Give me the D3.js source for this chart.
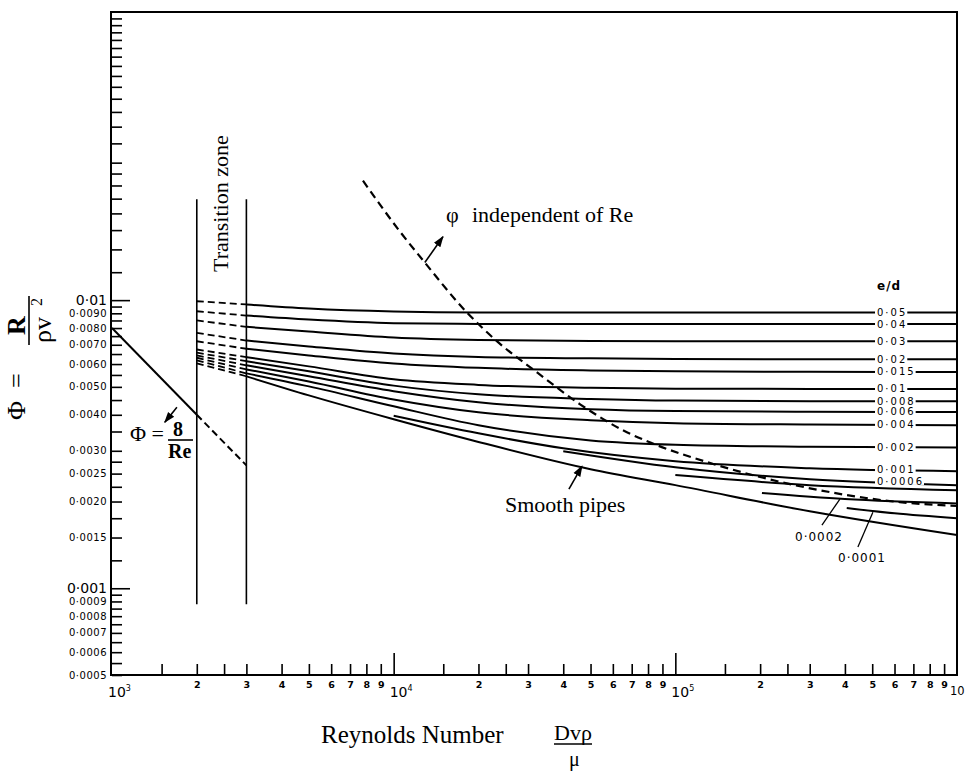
<!DOCTYPE html>
<html><head><meta charset="utf-8">
<script src="https://cdn.jsdelivr.net/npm/d3@7"></script>
<style>body{margin:0;background:#fff} svg{display:block}</style>
</head><body>
<svg id="c" width="965" height="772"></svg>
<script>
// ---------------- DATA ----------------
const reGrid = [3000, 5000, 10000, 20000, 50000, 100000, 300000, 1000000];
const edLabels = ["0·05","0·04","0·03","0·02","0·015","0·01","0·008","0·006","0·004","0·002"];
const phi_005  = [0.00966, 0.00935, 0.00913, 0.00906, 0.00906, 0.00906, 0.00906, 0.00906];
const phi_004  = [0.00884, 0.00856, 0.00832, 0.00827, 0.00826, 0.00826, 0.00826, 0.00826];
const phi_003  = [0.00808, 0.00778, 0.00742, 0.00727, 0.00721, 0.00720, 0.00720, 0.00720];
const phi_002  = [0.00724, 0.00691, 0.00653, 0.00635, 0.00628, 0.00625, 0.00623, 0.00623];
const phi_0015 = [0.00678, 0.00643, 0.00603, 0.00582, 0.00570, 0.00566, 0.00564, 0.00563];
const phi_001  = [0.00634, 0.00589, 0.00531, 0.00508, 0.00496, 0.00493, 0.00492, 0.00492];
const phi_0008 = [0.00614, 0.00566, 0.00505, 0.00471, 0.00454, 0.00448, 0.00446, 0.00446];
const phi_0006 = [0.00594, 0.00544, 0.00483, 0.00442, 0.00418, 0.00412, 0.00410, 0.00409];
const phi_0004 = [0.00575, 0.00522, 0.00452, 0.00408, 0.00383, 0.00374, 0.00370, 0.00368];
const phi_0002 = [0.00557, 0.00502, 0.00428, 0.00368, 0.00326, 0.00315, 0.00310, 0.00308];
const phi_smooth = [0.00544, 0.00467, 0.00386, 0.00322, 0.00259, 0.00228, 0.00185, 0.00153];
// dashed transition-zone pieces: value at Re = 2000 (joins first value at Re = 3000)
const transitionRe = [2000, 3000];
const transitionStart = [0.00991, 0.00915, 0.00850, 0.00770, 0.00720, 0.00674, 0.00657, 0.00643, 0.00631, 0.00618, 0.00603];
const transitionSpan = [0.00088, 0.0224];

// low-roughness curves branching near the smooth-pipe line
const re_00010 = [10000, 20000, 40000, 100000, 300000, 1000000];
const phi_00010 = [0.00397, 0.00345, 0.00306, 0.00276, 0.00261, 0.00255];
const re_00006 = [40000, 100000, 300000, 1000000];
const phi_00006 = [0.00299, 0.00263, 0.00239, 0.00228];
const re_00004 = [100000, 300000, 1000000];
const phi_00004 = [0.00247, 0.00228, 0.00219];
const re_00002 = [203000, 400000, 1000000];
const phi_00002 = [0.00214, 0.00204, 0.00197];
const re_00001 = [406000, 600000, 1000000];
const phi_00001 = [0.00190, 0.00182, 0.00175];

// laminar line  Φ = 8/Re
const laminarRe = [1000, 2000, 3000];
const laminarPhi = [0.0080, 0.0040, 0.00267];

// "φ independent of Re" boundary
const indepRe  = [7780, 10530, 12900, 18200, 23300, 32300, 45900, 67300, 81200, 138000, 277000, 627000, 1000000];
const indepPhi = [0.02597, 0.01729, 0.01350, 0.00906, 0.00719, 0.00561, 0.00435, 0.00348, 0.00321, 0.00269, 0.00226, 0.00199, 0.00193];

// axis ticks
const yTickMantissa = [1,1.25,1.5,1.75,2,2.25,2.5,2.75,3,3.5,4,4.5,5,5.5,6,6.5,7,7.5,8,8.5,9,9.5];
const yLabelVals = [0.01,0.009,0.008,0.007,0.006,0.005,0.004,0.003,0.0025,0.002,0.0015,0.001,0.0009,0.0008,0.0007,0.0006,0.0005];
const yLabelText = ["0·01","0·0090","0·0080","0·0070","0·0060","0·0050","0·0040","0·0030","0·0025","0·0020","0·0015","0·001","0·0009","0·0008","0·0007","0·0006","0·0005"];
const xTickMantissa = [1.5,2,2.5,3,4,5,6,7,8,9];
const xDigitLabels = ["","2","","3","4","5","6","7","8","9"];
const xDecades = [1e3, 1e4, 1e5, 1e6];
const xDecadeSup = ["3","4","5",""];

// ---------------- SCALES ----------------
const svg = d3.select("#c");
const x = d3.scaleLog().domain([1e3, 1e6]).range([112, 957]);
const y = d3.scaleLog().domain([0.0005, 0.1]).range([675, 12]);
const serif = "'Liberation Serif', 'Times New Roman', serif";
const sans = "'DejaVu Sans', sans-serif";

svg.append("defs").append("marker").attr("id","ah").attr("viewBox","0 0 10 10")
  .attr("refX",9).attr("refY",5).attr("markerWidth",7).attr("markerHeight",7).attr("orient","auto")
  .append("path").attr("d","M0,1.5 L10,5 L0,8.5 Z").attr("fill","#000");

// ---------------- AXES ----------------
const yTicks = [];
[0.0001,0.001,0.01].forEach(d => yTickMantissa.forEach(m => { const v = +(m*d).toPrecision(4); if (v >= 0.0005 && v < 0.1) yTicks.push(v); }));
const yMinor = yTicks.filter(v => v !== 0.01 && v !== 0.001);
const gy1 = svg.append("g").attr("transform","translate(112,0)")
  .call(d3.axisLeft(y).tickValues(yMinor).tickSize(-10).tickSizeOuter(0).tickFormat(""));
const gy2 = svg.append("g").attr("transform","translate(112,0)")
  .call(d3.axisLeft(y).tickValues([0.01,0.001]).tickSize(-18).tickSizeOuter(0).tickFormat(""));
[gy1, gy2].forEach(g => { g.select(".domain").remove(); g.selectAll("line").attr("stroke","#000").attr("stroke-width",1.6); });
svg.append("g").selectAll("text").data(yLabelVals).join("text")
  .attr("x", 107).attr("y", d => y(d))
  .attr("text-anchor","end").attr("dominant-baseline","central")
  .attr("font-family", sans)
  .attr("font-size", (d,i) => (yLabelText[i].length <= 5 ? 14 : 10))
  .attr("letter-spacing", (d,i) => (yLabelText[i].length <= 5 ? 0 : 0.5))
  .text((d,i) => yLabelText[i]);

const xMinor = [], xMinorLab = [];
[1e3,1e4,1e5].forEach(d => xTickMantissa.forEach((m,i) => { xMinor.push(m*d); xMinorLab.push(xDigitLabels[i]); }));
const gx1 = svg.append("g").attr("transform","translate(0,675)")
  .call(d3.axisBottom(x).tickValues(xMinor).tickSize(-11).tickSizeOuter(0).tickFormat((d,i) => xMinorLab[i]).tickPadding(6));
const gx2 = svg.append("g").attr("transform","translate(0,675)")
  .call(d3.axisBottom(x).tickValues([1e4,1e5]).tickSize(-22).tickSizeOuter(0).tickFormat(""));
[gx1, gx2].forEach(g => { g.select(".domain").remove(); g.selectAll("line").attr("stroke","#000").attr("stroke-width",1.6); });
gx1.selectAll("text").attr("font-family", sans).attr("font-size", 9.5).attr("font-weight","bold").attr("fill","#000");
const dec = svg.append("g").selectAll("text").data(xDecades).join("text")
  .attr("x", (d,i) => x(d) - (i === 3 ? 7 : 4)).attr("y", (d,i) => (i === 3 ? 695 : 697))
  .attr("font-family", sans).attr("font-size", (d,i) => (i === 3 ? 11.5 : 14)).attr("fill","#000");
dec.append("tspan").text("10");
dec.append("tspan").attr("dy", -6).attr("font-size", 8).text((d,i) => xDecadeSup[i]);

// frame
svg.append("rect").attr("x",x(1e3)-1).attr("y",y(0.1)).attr("width",x(1e6)-x(1e3)+1).attr("height",y(0.0005)-y(0.1))
  .attr("fill","none").attr("stroke","#000").attr("stroke-width",2);

// ---------------- CURVES ----------------
const line = d3.line().x(d => x(d[0])).y(d => y(d[1])).curve(d3.curveMonotoneX);
const mainSeries = [phi_005, phi_004, phi_003, phi_002, phi_0015, phi_001, phi_0008, phi_0006, phi_0004, phi_0002, phi_smooth];
const curves = svg.append("g").attr("fill","none").attr("stroke","#000").attr("stroke-width",2);
mainSeries.forEach((s,i) => {
  curves.append("path").attr("d", line(reGrid.map((r,j) => [r, s[j]])));
  curves.append("path").attr("stroke-dasharray","7,4").attr("stroke-width",1.8)
    .attr("d", d3.line().x(d => x(d[0])).y(d => y(d[1]))([[transitionRe[0], transitionStart[i]], [transitionRe[1], s[0]]]));
});
[[re_00010, phi_00010],[re_00006, phi_00006],[re_00004, phi_00004],[re_00002, phi_00002],[re_00001, phi_00001]].forEach(([r,p]) => {
  curves.append("path").attr("d", line(r.map((rr,j) => [rr, p[j]])));
});
// laminar
curves.append("path").attr("d", d3.line().x(d => x(d[0])).y(d => y(d[1]))([[laminarRe[0], laminarPhi[0]],[laminarRe[1], laminarPhi[1]]]));
curves.append("path").attr("stroke-dasharray","7,4")
  .attr("d", d3.line().x(d => x(d[0])).y(d => y(d[1]))([[laminarRe[1], laminarPhi[1]],[laminarRe[2], laminarPhi[2]]]));
// transition zone verticals
transitionRe.forEach(r => curves.append("line").attr("x1",x(r)).attr("x2",x(r)).attr("y1",y(transitionSpan[0])).attr("y2",y(transitionSpan[1])).attr("stroke-width",1.6));
// φ independent of Re
curves.append("path").attr("stroke-dasharray","8,5").attr("stroke-width",2.2)
  .attr("d", line(indepRe.map((r,j) => [r, indepPhi[j]])));

// ---------------- e/d LABELS ----------------
function valAt(re, rs, ps) {
  for (let j = 0; j < rs.length - 1; j++) {
    if (re >= rs[j] && re <= rs[j+1]) {
      const t = (Math.log(re) - Math.log(rs[j])) / (Math.log(rs[j+1]) - Math.log(rs[j]));
      return Math.exp(Math.log(ps[j]) + t * (Math.log(ps[j+1]) - Math.log(ps[j])));
    }
  }
  return ps[ps.length-1];
}
const labelRe = 520000;
const labs = edLabels.map((t,i) => ({t, v: valAt(labelRe, reGrid, mainSeries[i])}))
  .concat([{t:"0·001", v: valAt(labelRe, re_00010, phi_00010)}, {t:"0·0006", v: valAt(labelRe, re_00006, phi_00006)}]);
const lg = svg.append("g");
labs.forEach(l => {
  const tx = lg.append("text").attr("x", x(labelRe)).attr("y", y(l.v)).attr("dominant-baseline","central")
    .attr("font-family", sans).attr("font-size", 10).attr("letter-spacing", 2).text(l.t);
  const bb = tx.node().getBBox();
  lg.insert("rect", "text").attr("x", bb.x - 2).attr("y", y(l.v) - 3).attr("width", bb.width + 2).attr("height", 6).attr("fill","#fff");
});
svg.append("text").attr("x", x(labelRe)).attr("y", 290).attr("font-family", sans).attr("font-weight","bold")
  .attr("font-size", 12).attr("letter-spacing", 1).text("e/d");

// low-roughness labels with leaders
const leaders = [ {t:"0·0002", from:[331500, 0.001656], to:[383900, 0.00204], tx:795, ty:541},
                  {t:"0·0001", from:[444800, 0.00139], to:[502800, 0.001837], tx:838, ty:562} ];
leaders.forEach(l => {
  svg.append("line").attr("x1", x(l.from[0])).attr("y1", y(l.from[1])).attr("x2", x(l.to[0])).attr("y2", y(l.to[1]))
    .attr("stroke","#000").attr("stroke-width",1.3);
  svg.append("text").attr("x", l.tx).attr("y", l.ty).attr("font-family", sans).attr("font-size", 12).attr("letter-spacing", 1).text(l.t);
});

// ---------------- ANNOTATIONS ----------------
const arrows = [ {from:[1700, 0.00425], to:[1540, 0.00377]},
                 {from:[12900, 0.0135], to:[14960, 0.0166]},
                 {from:[41900, 0.00221], to:[46600, 0.00265]} ];
arrows.forEach(a => svg.append("line").attr("x1", x(a.from[0])).attr("y1", y(a.from[1])).attr("x2", x(a.to[0])).attr("y2", y(a.to[1]))
  .attr("stroke","#000").attr("stroke-width",1.6).attr("marker-end","url(#ah)"));

svg.append("text").attr("transform","translate(228,272) rotate(-90)").attr("font-family", serif).attr("font-size", 22).text("Transition zone");
svg.append("text").attr("x", 446).attr("y", 222).attr("font-family", serif).attr("font-size", 22).text("φ");
svg.append("text").attr("x", 472).attr("y", 222).attr("font-family", serif).attr("font-size", 22).text("independent of Re");
svg.append("text").attr("x", 505).attr("y", 512).attr("font-family", serif).attr("font-size", 22).text("Smooth pipes");

// Φ = 8/Re
svg.append("text").attr("x", 130).attr("y", 441).attr("font-family", serif).attr("font-size", 22).text("Φ =");
svg.append("text").attr("x", 173).attr("y", 436).attr("font-family", serif).attr("font-weight","bold").attr("font-size", 20).text("8");
svg.append("line").attr("x1",168).attr("x2",193).attr("y1",440).attr("y2",440).attr("stroke","#000").attr("stroke-width",1.6);
svg.append("text").attr("x", 168).attr("y", 458).attr("font-family", serif).attr("font-weight","bold").attr("font-size", 20).text("Re");

// x title
svg.append("text").attr("x", 321).attr("y", 743).attr("font-family", serif).attr("font-size", 25).text("Reynolds Number");
svg.append("text").attr("x", 554).attr("y", 740).attr("font-family", serif).attr("font-size", 22).text("Dvρ");
svg.append("line").attr("x1",554).attr("x2",592).attr("y1",744).attr("y2",744).attr("stroke","#000").attr("stroke-width",1.4);
svg.append("text").attr("x", 569).attr("y", 766).attr("font-family", serif).attr("font-size", 20).text("μ");

// y title (rotated)
const yt = svg.append("g").attr("transform","rotate(-90)").attr("font-family", serif);
yt.append("text").attr("x", -420).attr("y", 25).attr("font-size", 26).text("Φ");
yt.append("text").attr("x", -388).attr("y", 25).attr("font-size", 26).text("=");
yt.append("text").attr("x", -335).attr("y", 25).attr("font-size", 26).attr("font-weight","bold").text("R");
yt.append("line").attr("x1",-345).attr("x2",-296).attr("y1",29).attr("y2",29).attr("stroke","#000").attr("stroke-width",1.6);
yt.append("text").attr("x", -343).attr("y", 51).attr("font-size", 26).text("ρv");
yt.append("text").attr("x", -306).attr("y", 42).attr("font-size", 16).text("2");
</script>
</body></html>
